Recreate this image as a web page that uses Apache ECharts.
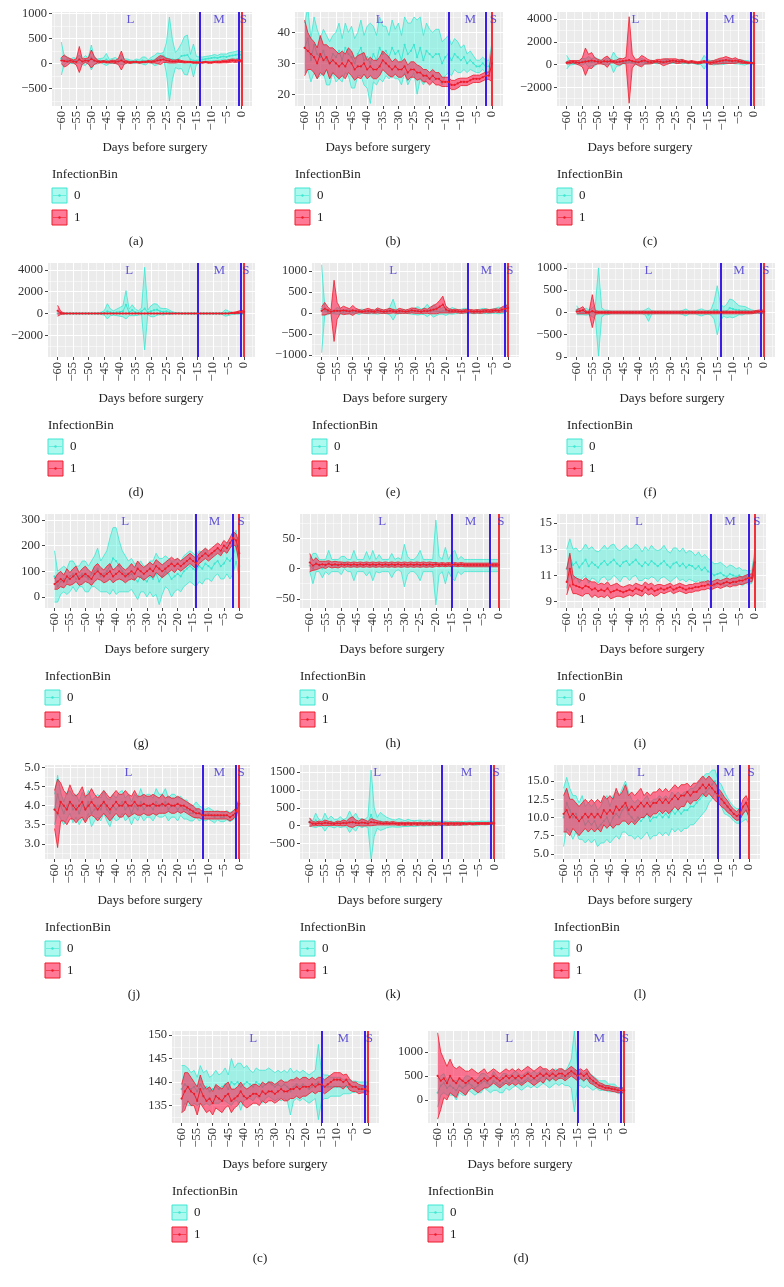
<!DOCTYPE html>
<html><head><meta charset="utf-8">
<script src="https://cdn.jsdelivr.net/npm/echarts@6/dist/echarts.min.js"></script>
<style>html,body{margin:0;padding:0;background:#fff}#c{width:784px;height:1287px}</style>
</head><body><div id="c"></div>
<script>
// ---------------- DATA ----------------
const days = [-60,-59,-58,-57,-56,-55,-54,-53,-52,-51,-50,-49,-48,-47,-46,-45,-44,-43,-42,-41,-40,-39,-38,-37,-36,-35,-34,-33,-32,-31,-30,-29,-28,-27,-26,-25,-24,-23,-22,-21,-20,-19,-18,-17,-16,-15,-14,-13,-12,-11,-10,-9,-8,-7,-6,-5,-4,-3,-2,-1,0];
const xTicks = [-60,-55,-50,-45,-40,-35,-30,-25,-20,-15,-10,-5,0];
const captions = ['(a)','(b)','(c)','(d)','(e)','(f)','(g)','(h)','(i)','(j)','(k)','(l)','(c)','(d)'];
const legendTitle = 'InfectionBin';
const groupNames = ['0','1'];
const xTitle = 'Days before surgery';
const phaseNames = ['L','M','S'];

const yTicks = [
 [-500,0,500,1000],[20,30,40],[-2000,0,2000,4000],[-2000,0,2000,4000],
 [-1000,-500,0,500,1000],[-1000,-500,0,500,1000],[0,100,200,300],[-50,0,50],
 [9,11,13,15],[3.0,3.5,4.0,4.5,5.0],[-500,0,500,1000,1500],[5,7.5,10,12.5,15],
 [135,140,145,150],[0,500,1000]
];
const yDecimals = [0,0,0,0,0,0,0,0,0,1,0,1,0,0];
const blueLines = [[-14,-1],[-14,-2],[-15,-1],[-15,-1],[-13,-1],[-14,-1],[-14,-2],[-15,-3],[-14,-2],[-12,-1],[-17,-1],[-10,-3],[-15,-1],[-15,-1]];
const redLine = 0;
const phaseX = [[-37,-7.5,0.6],[-36,-7,0.4],[-38,-8,0.4],[-37,-8,0.6],[-37,-7,0.6],[-37,-8,0.6],[-37,-8,0.6],[-37,-9,0.6],[-37,-8,0.6],[-36,-6.5,0.6],[-38,-9,0.6],[-35,-6.5,0.6],[-37,-8,0.4],[-37,-8,0.4]];

const a_c_mean=[100,60,80,40,60,50,90,40,60,70,120,50,40,60,50,80,40,50,60,40,80,40,50,40,30,50,40,60,50,40,70,60,90,120,160,110,90,80,70,90,150,160,170,80,60,60,70,80,90,100,110,120,110,130,140,130,150,160,170,180,170];
const a_c_half=[330,80,60,40,60,50,80,60,100,40,250,60,50,40,60,120,40,50,60,40,100,50,40,30,30,40,30,70,80,30,60,100,120,80,60,300,840,400,150,200,250,380,400,100,330,80,60,50,50,50,50,60,50,60,50,60,70,70,70,80,60];
const a_r_mean=[60,50,40,60,40,30,80,40,60,50,90,60,40,30,40,30,30,40,30,40,60,30,30,20,30,30,20,30,30,40,30,40,60,70,80,60,50,40,40,50,40,30,30,30,20,20,20,20,30,20,20,30,30,30,40,40,50,60,50,60,50];
const a_r_half=[60,120,80,40,30,60,260,50,40,60,180,80,30,20,20,20,20,30,30,60,190,40,20,20,15,15,15,15,15,20,20,30,60,90,60,40,40,30,30,30,20,20,15,15,15,15,15,15,15,15,15,15,20,20,25,25,30,30,30,30,20];
const b_c_mean=[35,38,31,36,33,32,34,31,30,33,32,34,31,35,33,32,30,33,35,31,32,30,33,31,35,33,34,32,35,33,34,31,36,33,34,36,32,35,31,34,33,32,33,33,30,32,33,31,33,32,31,32,30,31,30,29,29,30,29,29,33];
const b_c_half=[8,10,7,9,8,6,7,8,7,6,8,9,7,8,7,10,8,7,9,8,10,13,9,8,10,9,8,7,9,8,9,8,9,10,9,9,12,10,8,9,8,8,8,8,7,6,6,5,5,5,4,4,3,3,2.5,2,2,2,2,2,4];
const b_r_mean=[35,34,33,32,30,33,31,32,30,31,30,29,30,29,31,30,28,29,29,30,28,29,28,28,29,31,30,29,28,29,28,28,29,27,28,28,27,27,26,26,25,26,25,25,24,24,24,23,23,23.5,24,24,24,24.5,25,25,25,25.5,26,26,30];
const b_r_half=[9,6,5,5,5,6,5,4,5,4,4,4,4,4,4,4,3.5,3.5,4,3.5,3,3,3,3,3,3,3,3,2.5,2.5,2.5,2.5,2.5,2.5,2.5,2.5,2.5,2,2,2,2,2,2,2,1.5,1.5,1.5,1.5,1.5,1.5,1.2,1.2,1.2,1.2,1.2,1.2,1.2,1.2,1.2,1.2,6];
const c_c_mean=[200,150,100,150,200,250,300,250,200,250,300,250,200,300,250,200,250,200,150,200,250,200,150,200,250,200,150,250,200,150,200,250,300,250,200,250,300,250,200,150,200,150,100,150,200,250,200,150,200,250,200,250,300,250,200,250,200,150,200,150,100];
const c_c_half=[600,200,100,100,150,300,200,450,300,400,200,150,200,300,200,900,400,300,100,100,100,100,150,200,300,150,100,150,100,100,100,150,200,150,100,100,150,200,100,100,100,100,100,150,600,200,150,200,200,200,200,200,200,150,150,200,200,200,150,100,80];
const c_r_mean=[150,200,250,200,150,200,250,300,350,300,250,200,300,250,300,250,200,250,300,350,400,300,250,200,300,350,250,200,250,300,250,200,250,300,350,300,250,300,250,200,250,200,150,200,250,200,150,200,250,300,350,400,350,300,350,300,250,200,150,150,100];
const c_r_half=[100,150,100,150,200,400,1200,600,700,300,200,150,300,500,150,100,200,300,200,300,3800,600,200,300,500,300,200,150,100,150,200,300,250,200,150,200,150,150,100,100,100,100,100,100,100,100,150,150,200,250,250,300,250,200,250,150,150,100,80,60,50];
const d_c_mean=[0,0,0,0,0,0,0,0,0,0,0,0,0,0,20,50,200,100,50,100,150,200,800,100,300,100,50,200,450,100,200,300,350,200,150,200,100,50,30,20,0,0,0,0,0,0,0,0,0,0,0,0,0,0,50,20,0,0,0,0,0];
const d_c_half=[50,50,50,50,50,50,50,50,50,50,50,50,50,50,100,200,700,300,200,300,400,500,1300,300,500,300,200,300,3800,200,500,600,500,300,300,250,200,100,50,50,50,50,50,50,50,50,50,50,50,50,50,50,50,100,300,200,100,50,50,50,100];
const d_r_mean=[250,50,0,0,0,0,0,0,0,0,0,0,0,0,0,0,0,0,0,0,0,0,0,0,0,0,0,0,0,0,0,0,0,0,0,0,0,0,0,0,0,0,0,0,0,0,0,0,0,0,0,0,0,0,0,0,50,50,100,150,150];
const d_r_half=[500,150,50,30,30,30,30,30,30,30,30,30,30,30,30,30,30,30,30,30,30,30,30,30,30,30,30,30,30,30,30,30,30,30,30,30,30,30,30,30,30,30,30,30,30,30,30,30,30,30,30,30,30,30,30,30,50,80,100,150,100];
const e_c_mean=[100,50,20,30,20,50,30,20,40,30,20,30,20,40,30,20,30,20,30,40,30,20,50,80,30,20,40,30,20,30,40,50,30,40,60,30,50,40,30,50,40,30,50,40,30,40,50,40,30,20,30,40,50,40,30,40,50,60,50,70,150];
const e_c_half=[1050,100,60,40,40,80,60,40,50,60,40,40,60,50,40,40,50,40,60,50,40,40,100,250,60,40,50,40,40,60,80,100,60,80,150,60,150,100,60,80,100,50,80,60,40,50,60,50,40,40,40,50,60,60,40,50,60,80,60,80,80];
const e_r_mean=[50,100,60,30,50,50,50,60,50,40,60,50,40,30,40,50,40,30,60,40,30,40,50,40,30,50,40,30,40,60,50,40,30,50,40,60,80,100,150,200,80,50,40,50,40,30,40,50,40,30,40,30,40,50,40,50,60,50,80,100,120];
const e_r_half=[100,150,80,40,730,200,60,100,80,60,120,60,40,30,50,60,40,40,60,50,40,50,60,40,40,60,50,40,50,60,60,50,40,60,50,80,100,120,150,200,80,50,40,40,40,40,40,40,40,40,40,40,40,40,40,40,40,40,60,80,60];
const f_c_mean=[50,0,0,20,0,0,20,10,0,0,0,0,0,0,0,0,0,0,0,0,0,0,0,-50,0,0,0,0,0,0,0,0,0,0,0,0,0,0,0,0,0,0,0,0,50,50,0,20,30,100,80,60,50,40,50,30,20,10,10,10,0];
const f_c_half=[100,50,50,80,50,100,150,990,100,50,50,30,30,30,30,30,30,30,30,30,30,30,60,150,40,30,30,30,30,30,30,30,30,30,50,80,30,30,30,60,80,50,40,60,200,550,200,100,150,200,200,150,100,100,80,60,40,30,30,30,30];
const f_r_mean=[20,30,50,0,0,30,0,0,0,0,0,0,0,0,0,0,0,0,0,0,0,0,0,0,0,0,0,0,0,0,0,0,0,0,0,0,0,0,0,0,0,0,0,0,0,0,0,0,0,0,0,0,0,0,0,0,0,10,20,20,20];
const f_r_half=[50,60,80,30,30,370,40,30,30,30,30,30,30,30,30,30,30,30,30,30,30,30,30,30,30,30,30,30,30,30,30,30,30,30,30,30,30,30,30,30,30,30,30,30,30,30,30,30,30,30,30,30,30,30,30,30,30,30,30,40,30];
const g_c_mean=[80,40,60,70,60,80,90,70,80,90,80,70,90,100,110,80,90,100,120,150,140,120,100,90,80,90,70,60,80,70,60,80,70,90,60,80,100,90,70,80,90,80,100,110,120,110,100,120,110,130,120,110,130,140,120,130,150,140,160,200,120];
const g_c_half=[100,60,50,50,50,60,50,50,40,50,60,50,50,60,80,60,70,80,110,120,130,100,80,70,60,60,60,70,60,50,60,60,70,80,90,70,60,60,70,60,60,60,60,60,60,60,60,60,60,60,50,50,50,50,50,60,60,70,70,60,50];
const g_r_mean=[50,60,70,60,80,70,80,90,70,80,90,80,70,90,100,90,80,90,100,80,90,100,90,80,90,100,90,110,100,90,100,110,100,120,110,100,110,120,130,120,130,120,130,140,150,140,130,150,160,170,160,170,180,190,180,200,190,210,230,220,170];
const g_r_half=[20,30,30,25,30,25,30,30,25,30,30,25,25,30,30,25,25,30,30,25,25,30,25,25,25,30,25,30,25,25,25,25,25,25,25,25,25,25,25,25,20,20,20,20,20,20,20,20,20,20,20,20,20,20,20,20,20,20,25,25,40];
const h_c_mean=[5,0,10,5,0,5,10,5,5,5,5,10,5,5,5,5,5,5,8,5,5,5,8,5,5,5,5,5,8,5,5,5,5,5,5,5,5,5,5,5,10,5,5,5,5,5,5,5,5,5,5,5,5,5,5,5,5,5,5,5,5];
const h_c_half=[10,25,15,10,15,10,20,10,10,10,15,10,10,10,25,10,10,10,20,10,25,10,15,10,10,10,20,10,10,10,35,15,10,10,15,25,10,10,10,10,70,15,10,30,10,20,25,10,15,10,10,10,10,10,10,10,10,10,10,10,10];
const h_r_mean=[10,5,8,6,7,6,8,6,7,6,7,6,7,6,7,6,7,6,7,6,7,6,7,6,7,6,7,6,7,6,7,6,7,6,7,6,7,6,7,6,7,6,7,6,7,6,7,6,7,6,6,6,6,6,6,6,6,6,6,6,6];
const h_r_half=[15,8,10,6,5,6,5,5,5,5,4,4,4,4,4,4,4,4,4,4,4,4,4,4,4,4,4,4,4,4,4,4,4,4,4,4,4,4,4,4,3,3,3,3,3,3,3,3,3,3,3,3,3,3,3,3,3,3,3,3,3];
const i_c_mean=[11.5,12.5,11.8,12,11.6,11.9,12.2,11.7,12,11.8,11.6,11.9,12.1,11.8,12,12.2,11.9,11.7,12,12.1,11.8,12,12.2,11.9,11.7,12,11.8,12.1,11.9,11.7,11.9,12.1,11.8,11.6,11.9,12,11.7,11.9,11.6,11.8,11.7,11.5,11.7,11.4,11.6,11.3,11.2,11,11.1,11.2,11,10.9,11.1,11,10.9,11,10.8,10.9,10.8,10.9,12.3];
const i_c_half=[1.5,1.3,1.2,1.1,1.2,1.1,1.2,1.3,1.2,1.1,1.2,1.1,1.2,1.2,1.3,1.2,1.1,1.2,1.1,1.2,1.2,1.1,1.2,1.3,1.1,1.2,1.1,1.2,1.1,1.2,1.1,1.2,1.1,1.1,1.2,1.1,1.1,1.2,1.1,1.1,1.1,1,1.1,1,1,1,0.9,0.9,0.8,0.8,0.8,0.7,0.7,0.7,0.6,0.6,0.6,0.5,0.5,0.5,0.8];
const i_r_mean=[10.5,11.5,10.3,10.2,10.1,10,10.2,10.1,9.9,10,9.8,9.9,9.8,10,9.7,9.8,9.9,9.8,9.7,9.8,9.9,9.8,10,9.9,9.8,10.1,9.9,10,9.8,9.9,10,9.9,10,10.1,9.9,10,10.1,10,9.9,10,10,10.1,10.1,10.2,10.2,10.3,10.2,10.3,10.4,10.3,10.4,10.5,10.4,10.5,10.5,10.6,10.6,10.7,10.8,10.8,12];
const i_r_half=[1,1.2,0.7,0.6,0.6,0.6,0.6,0.5,0.6,0.5,0.5,0.5,0.5,0.5,0.5,0.5,0.5,0.4,0.4,0.4,0.4,0.4,0.4,0.4,0.4,0.4,0.4,0.4,0.4,0.4,0.3,0.3,0.3,0.3,0.3,0.3,0.3,0.3,0.3,0.3,0.3,0.3,0.3,0.3,0.3,0.3,0.3,0.3,0.3,0.3,0.3,0.3,0.3,0.3,0.3,0.3,0.3,0.3,0.3,0.3,0.6];
const j_c_mean=[3.9,4.3,4.0,3.8,4.0,4.1,3.9,4.0,3.8,4.0,3.9,4.1,3.8,3.9,4.0,3.9,4.1,3.9,3.8,4.0,3.9,4.0,4.1,3.9,4.0,3.8,4.0,3.9,4.1,3.9,4.0,4.0,3.9,4.1,4.0,4.0,4.1,3.9,4.0,4.0,3.9,4.0,3.9,3.9,3.8,3.8,3.9,3.8,3.8,3.75,3.8,3.75,3.7,3.75,3.7,3.7,3.75,3.7,3.75,3.8,4.0];
const j_c_half=[0.4,0.5,0.35,0.3,0.35,0.3,0.35,0.3,0.3,0.35,0.3,0.3,0.35,0.3,0.3,0.3,0.3,0.3,0.35,0.3,0.3,0.35,0.3,0.3,0.3,0.3,0.3,0.3,0.35,0.3,0.3,0.3,0.3,0.35,0.3,0.3,0.35,0.3,0.3,0.3,0.3,0.25,0.25,0.25,0.2,0.2,0.2,0.2,0.15,0.15,0.15,0.15,0.15,0.12,0.12,0.12,0.12,0.12,0.12,0.12,0.15];
const j_r_mean=[3.9,3.8,4.1,4.0,3.9,4.1,4.0,3.9,4.0,4.1,3.9,4.0,4.1,4.0,3.9,4.0,4.1,4.0,3.9,4.0,4.1,4.0,4.0,4.1,4.0,4.0,4.1,4.0,4.0,4.05,4.0,4.0,4.05,4.0,4.0,4.05,4.0,4.05,4.0,4.0,4.05,4.0,4.0,3.95,3.9,3.85,3.8,3.8,3.75,3.75,3.75,3.75,3.75,3.75,3.75,3.75,3.75,3.7,3.75,3.85,4.05];
const j_r_half=[0.5,0.9,0.5,0.4,0.4,0.45,0.35,0.35,0.35,0.4,0.35,0.3,0.35,0.3,0.3,0.3,0.3,0.3,0.3,0.3,0.3,0.3,0.3,0.3,0.3,0.25,0.3,0.25,0.25,0.25,0.25,0.25,0.25,0.25,0.2,0.25,0.2,0.2,0.2,0.2,0.2,0.2,0.15,0.15,0.15,0.15,0.12,0.12,0.1,0.1,0.1,0.1,0.1,0.1,0.1,0.1,0.1,0.1,0.1,0.1,0.15];
const k_c_mean=[100,50,150,80,60,100,80,120,60,80,100,70,90,110,80,100,90,70,80,100,300,100,80,120,100,90,80,70,60,80,70,60,80,70,60,70,80,60,70,80,60,70,60,70,60,70,60,70,60,70,60,70,80,70,60,70,80,70,80,70,80];
const k_c_half=[100,80,200,100,80,250,100,150,120,100,150,100,120,300,150,250,100,120,100,150,1250,400,150,250,200,150,120,100,100,120,100,80,100,80,80,80,80,70,70,80,60,60,60,60,60,60,50,50,50,50,50,50,50,50,50,50,50,50,50,50,50];
const k_r_mean=[100,60,50,70,60,80,70,60,50,70,60,80,70,90,100,80,70,90,80,60,100,90,80,70,60,70,60,70,60,50,60,50,60,50,60,50,60,50,60,50,60,50,60,50,60,50,60,50,60,50,60,50,60,50,60,60,60,60,60,70,70];
const k_r_half=[120,60,50,60,50,80,60,50,40,60,60,80,60,120,150,80,60,100,80,60,100,80,60,50,40,50,40,50,40,40,40,40,40,40,40,40,40,40,40,40,40,40,40,40,40,40,40,40,40,40,30,30,30,30,30,30,30,30,30,30,30];
const l_c_mean=[10,12,11,10,10.5,9.5,10,9,9.5,9,9.5,8.5,9,9.5,10,9,10,10.5,10,11,11.5,10.5,10,9.5,10,9.5,10,10.5,9.5,10,10,10.5,10,10.5,10,11,10.5,11,10.5,11,11,11.5,11.5,12,12.5,13,13.5,14,14.5,15,13.5,13,12,11.5,11,10.5,10.2,10.2,10.5,11,10];
const l_c_half=[4,3.5,3,3,2.5,2.5,3,2.5,2.5,2.5,2.5,2.5,2.5,3,3,2.5,3,3,3,3,3.5,3,2.5,2.5,2.5,2.5,2.5,2.5,2.5,2.5,2.5,2.5,2.5,2.5,2.5,2.5,2.5,2.5,2.5,2.5,2.5,2.5,2.5,2.5,2.5,2.5,2.5,2,2,1.5,1.5,1.5,1.5,1.2,1,1,1,1,1,1.2,1];
const l_r_mean=[10.5,11,10,10.5,10,9.5,10,10.5,10,10.5,10,10.5,10,11,10.5,11,10.5,11.5,11,11.5,12,11,11.5,11,11.5,12,11.5,12,11.5,12,12,12.5,12,12.5,12,12.5,13,12.5,13,13,13.5,13,13.5,13.5,14,14.5,14,14.5,14,13.5,13,12.5,12,11.5,11,10.5,10.2,10.5,11.5,12,11];
const l_r_half=[2.5,3,2.5,2,2,2,2,2,2,2,2,2,2,2,2,2,2,2.5,2,2,2.5,2,2,2,2,2,1.5,1.5,1.5,1.5,1.5,1.5,1.5,1.5,1.5,1.5,1.5,1.5,1.5,1.5,1.2,1.2,1.2,1.2,1.2,1.2,1.2,1.2,1.2,1.2,1,1,0.8,0.8,0.6,0.6,0.6,0.8,1,1,1];
const m_c_mean=[138.5,139.5,139,138.5,139,138,139.5,138.5,139,138,138.5,139,138.5,139,139.5,138.5,140,139.5,140,139,139.5,140,139.5,139,140,139.5,139,139.5,140,139.5,139,139.5,139,139.5,139,138,139,139.5,139,139.5,139,138.5,139,139.5,140,139,139,139,139,139,139,139,139,139,139,139,139,139,139,139,139];
const m_c_half=[5,4,4,3.5,3.5,3,4,3.5,3.5,3,3,3.5,3,3,3.5,3,5,3.5,4,5,3.5,3.5,3,3,3,3,3.5,3,3,3,3,3,3,3,3,5,3,3,3,3,3,3,3,3,8,3,2.5,2.5,2,2,2,2,1.5,1.5,1.5,1.2,1.2,1,1,1,1];
const m_r_mean=[136.5,138,139,138,137.5,136,138.5,137,136,136.5,135.5,137,136.5,136,137,137.5,136,136.5,137,138,137,136.5,137,137.5,137.5,137,138,137.5,138,138,137.5,138,138.5,138,138,138.5,138.5,139,138.5,139,139,139,139.5,139,139.5,139.5,139,139.5,140,140.5,140.5,140.5,140,140.5,139.5,139,139,138.5,138.5,138.5,138];
const m_r_half=[3,4,3,3,2.5,3,3,2.5,2.5,2.5,2.5,2.5,2.5,2.5,2.5,2.5,2.5,2,2,2,2,2,2,2,2,2,2,2,2,2,2,2,2,2,2,2,2,2,2,2,2,1.5,1.5,1.5,1.5,1.5,1.5,1.5,1.5,1.5,1.5,1.5,1.5,1.2,1.2,1,1,1,0.8,0.8,1];
const n_c_mean=[150,300,350,250,300,250,200,300,250,300,350,300,250,300,350,400,350,300,400,350,300,350,400,350,400,450,400,350,400,450,400,450,400,450,500,450,400,450,500,450,500,450,500,550,600,500,450,400,450,400,350,350,300,300,300,250,250,250,200,200,200];
const n_c_half=[300,200,200,150,200,150,200,150,150,200,150,150,150,150,200,150,150,150,200,150,150,200,150,150,150,150,150,150,150,150,150,150,150,150,150,150,150,150,150,150,150,150,200,300,850,200,150,150,150,150,150,100,100,100,100,80,80,80,60,60,60];
const n_r_mean=[500,400,450,350,500,400,350,450,400,350,400,450,400,350,400,450,400,450,500,450,400,450,500,450,500,450,500,450,500,550,500,450,500,550,500,550,500,550,500,550,550,500,550,600,550,500,550,500,550,450,400,350,300,280,250,250,230,220,200,200,200];
const n_r_half=[900,600,400,350,350,300,300,250,250,250,200,200,200,200,200,200,150,150,150,150,150,150,150,150,150,150,150,150,150,150,150,150,150,150,150,100,100,100,100,100,100,100,100,100,100,100,100,100,100,100,80,80,60,60,50,50,50,50,50,50,50];

const panelData = [
 [a_c_mean,a_c_half,a_r_mean,a_r_half],[b_c_mean,b_c_half,b_r_mean,b_r_half],[c_c_mean,c_c_half,c_r_mean,c_r_half],
 [d_c_mean,d_c_half,d_r_mean,d_r_half],[e_c_mean,e_c_half,e_r_mean,e_r_half],[f_c_mean,f_c_half,f_r_mean,f_r_half],
 [g_c_mean,g_c_half,g_r_mean,g_r_half],[h_c_mean,h_c_half,h_r_mean,h_r_half],[i_c_mean,i_c_half,i_r_mean,i_r_half],
 [j_c_mean,j_c_half,j_r_mean,j_r_half],[k_c_mean,k_c_half,k_r_mean,k_r_half],[l_c_mean,l_c_half,l_r_mean,l_r_half],
 [m_c_mean,m_c_half,m_r_mean,m_r_half],[n_c_mean,n_c_half,n_r_mean,n_r_half]
];

// ---------------- LAYOUT ----------------
const X_MIN = -63.1, X_MAX = 3.5;
const yRange = [[-850,1030],[16.2,46.6],[-3640,4614],[-4000,4640],[-1050,1190],[-1000,1110],[-43,323],[-65,90],[8.5,15.7],[2.6,5.07],[-925,1690],[4.3,17.2],[131.3,150.85],[-480,1437]];
const layout = [
 {l:52,t:12,r:252,b:106,title:155,cap:136},{l:295,t:12,r:503,b:106,title:378,cap:393},{l:557,t:12,r:765,b:106,title:640,cap:650},
 {l:48,t:263,r:255,b:357,title:151,cap:136},{l:312,t:263,r:519,b:357,title:395,cap:393},{l:567,t:263,r:775,b:357,title:672,cap:650},
 {l:45,t:514,r:250,b:608,title:157,cap:141},{l:300,t:514,r:510,b:608,title:392,cap:393},{l:557,t:514,r:766,b:608,title:652,cap:640},
 {l:45,t:765,r:250,b:859,title:150,cap:134},{l:300,t:765,r:505,b:859,title:390,cap:393},{l:554,t:765,r:760,b:859,title:640,cap:640},
 {l:172,t:1031,r:379,b:1123,title:275,cap:260},{l:428,t:1031,r:635,b:1123,title:520,cap:521}
];
const FONT = "'Liberation Serif','DejaVu Serif',serif";
const CYAN_EDGE = '#3EE6D2', CYAN_FILL = 'rgba(70,245,220,0.45)';
const RED_EDGE = '#EE1C2A', RED_FILL = 'rgba(255,25,75,0.58)';
const BLUE = '#3A1EE6', REDV = '#F2303A', PHASE = '#3D2ED0';

function fmtNum(v, dec) {
  const s = Math.abs(v).toFixed(dec);
  return (v < 0 ? '\u2212' : '') + s;
}
function minorOf(ticks, lo, hi) {
  const st = ticks[1] - ticks[0];
  const out = [];
  for (let v = ticks[0] - st / 2; v <= hi; v += st) if (v >= lo) out.push(+v.toFixed(6));
  for (let v = ticks[0] - st * 1.5; v >= lo; v -= st) out.push(+v.toFixed(6));
  return out;
}
const xMinor = minorOf(xTicks, X_MIN, X_MAX);

function bandRenderer(lo, hi, edge, fill) {
  return function (params, api) {
    if (params.dataIndex !== 0) return null;
    const up = [], dn = [];
    for (let k = 0; k < days.length; k++) {
      up.push(api.coord([days[k], hi[k]]));
      dn.push(api.coord([days[k], lo[k]]));
    }
    return {type: 'group', children: [
      {type: 'polygon', shape: {points: up.concat(dn.slice().reverse())}, style: {fill: fill, stroke: null}},
      {type: 'polyline', shape: {points: up}, style: {stroke: edge, lineWidth: 0.8, fill: null}},
      {type: 'polyline', shape: {points: dn}, style: {stroke: edge, lineWidth: 0.8, fill: null}}
    ]};
  };
}

const grids = [], xAxes = [], yAxes = [], series = [], graphics = [];
layout.forEach((L, i) => {
  const [ymin, ymax] = yRange[i];
  grids.push({left: L.l, top: L.t, width: L.r - L.l, height: L.b - L.t, show: true, backgroundColor: '#EBEBEB', borderWidth: 0});
  const axLabel = {fontFamily: FONT, fontSize: 12.5, color: '#333'};
  const noLine = {show: false, onZero: false};
  xAxes.push({gridIndex: i, type: 'value', min: X_MIN, max: X_MAX, position: 'bottom',
    axisLine: noLine, axisTick: {show: true, length: 3, customValues: xTicks, lineStyle: {color: '#444', width: 1}},
    axisLabel: Object.assign({customValues: xTicks, rotate: 90, margin: 5, formatter: v => fmtNum(v, 0)}, axLabel),
    splitLine: {show: true, lineStyle: {color: '#FFFFFF', width: 1.1}}});
  xAxes.push({gridIndex: i, type: 'value', min: X_MIN, max: X_MAX, position: 'top',
    axisLine: noLine, axisTick: {show: false, customValues: xMinor}, axisLabel: {show: false, customValues: xMinor},
    splitLine: {show: true, lineStyle: {color: '#FFFFFF', width: 0.5}}});
  const yt = yTicks[i];
  const ym = minorOf(yt, ymin, ymax);
  yAxes.push({gridIndex: i, type: 'value', min: ymin, max: ymax, position: 'left',
    axisLine: noLine, axisTick: {show: true, length: 3, customValues: yt, lineStyle: {color: '#444', width: 1}},
    axisLabel: Object.assign({customValues: yt, margin: 5, formatter: v => (i === 5 && v === -1000) ? '9' : fmtNum(v, yDecimals[i])}, axLabel),
    splitLine: {show: true, lineStyle: {color: '#FFFFFF', width: 1.1}}});
  yAxes.push({gridIndex: i, type: 'value', min: ymin, max: ymax, position: 'right',
    axisLine: noLine, axisTick: {show: false, customValues: ym}, axisLabel: {show: false, customValues: ym},
    splitLine: {show: true, lineStyle: {color: '#FFFFFF', width: 0.5}}});

  const xi = 2 * i, yi = 2 * i;
  const [cm, ch, rm, rh] = panelData[i];
  const groups = [[cm, ch, CYAN_EDGE, CYAN_FILL], [rm, rh, RED_EDGE, RED_FILL]];
  groups.forEach(([m, h, edge, fill], gi) => {
    const lo = m.map((v, k) => v - h[k]);
    const hi = m.map((v, k) => v + h[k]);
    series.push({type: 'custom', name: groupNames[gi], xAxisIndex: xi, yAxisIndex: yi, clip: true, silent: true,
      renderItem: bandRenderer(lo, hi, edge, fill),
      data: days.map((d, k) => [d, lo[k], hi[k]]), encode: {x: 0, y: [1, 2]}, z: 2 + gi * 2});
    const meanSeries = {type: 'line', name: groupNames[gi], xAxisIndex: xi, yAxisIndex: yi,
      data: days.map((d, k) => [d, m[k]]), symbol: 'circle', symbolSize: 2.2, silent: true,
      itemStyle: {color: edge}, lineStyle: {color: edge, width: 1}, z: 3 + gi * 2};
    if (gi === 1) {
      meanSeries.markLine = {silent: true, symbol: ['none', 'none'], label: {show: false}, animation: false,
        data: blueLines[i].map(v => ({xAxis: v, lineStyle: {color: BLUE, width: 2, type: 'solid'}}))
          .concat([{xAxis: redLine, lineStyle: {color: REDV, width: 2, type: 'solid'}}])};
    }
    series.push(meanSeries);
  });
  series.push({type: 'scatter', xAxisIndex: xi, yAxisIndex: yi, symbolSize: 0, silent: true, z: 10,
    data: phaseX[i].map((x, k) => [x, ymax, phaseNames[k]]),
    label: {show: true, position: 'bottom', distance: 1, formatter: p => p.data[2], fontFamily: FONT, fontSize: 13, color: PHASE}});

  const txt = (x, y, text, align) => ({type: 'text', x: x, y: y, style: {text: text, font: '13px ' + FONT, fill: '#222', textAlign: align, textVerticalAlign: 'middle'}});
  graphics.push(txt(L.title, L.b + 42, xTitle, 'center'));
  graphics.push(txt(L.l, L.b + 69, legendTitle, 'left'));
  [[CYAN_FILL, CYAN_EDGE, L.b + 82], [RED_FILL, RED_EDGE, L.b + 104]].forEach(([f, e, y], gi) => {
    graphics.push({type: 'rect', x: L.l, y: y, shape: {width: 15, height: 15}, style: {fill: f, stroke: e, lineWidth: 1}});
    graphics.push({type: 'line', shape: {x1: L.l + 1, y1: y + 7.5, x2: L.l + 14, y2: y + 7.5}, style: {stroke: e, lineWidth: 0.6}});
    graphics.push({type: 'circle', x: L.l + 7.5, y: y + 7.5, shape: {r: 1.2}, style: {fill: e}});
    graphics.push(txt(L.l + 22, y + 7.5, groupNames[gi], 'left'));
  });
  graphics.push(txt(L.cap, L.b + 136, captions[i], 'center'));
});

const chart = echarts.init(document.getElementById('c'), null, {renderer: 'canvas', width: 784, height: 1287});
chart.setOption({animation: false, backgroundColor: '#fff', grid: grids, xAxis: xAxes, yAxis: yAxes, series: series, graphic: {elements: graphics}});
</script></body></html>
